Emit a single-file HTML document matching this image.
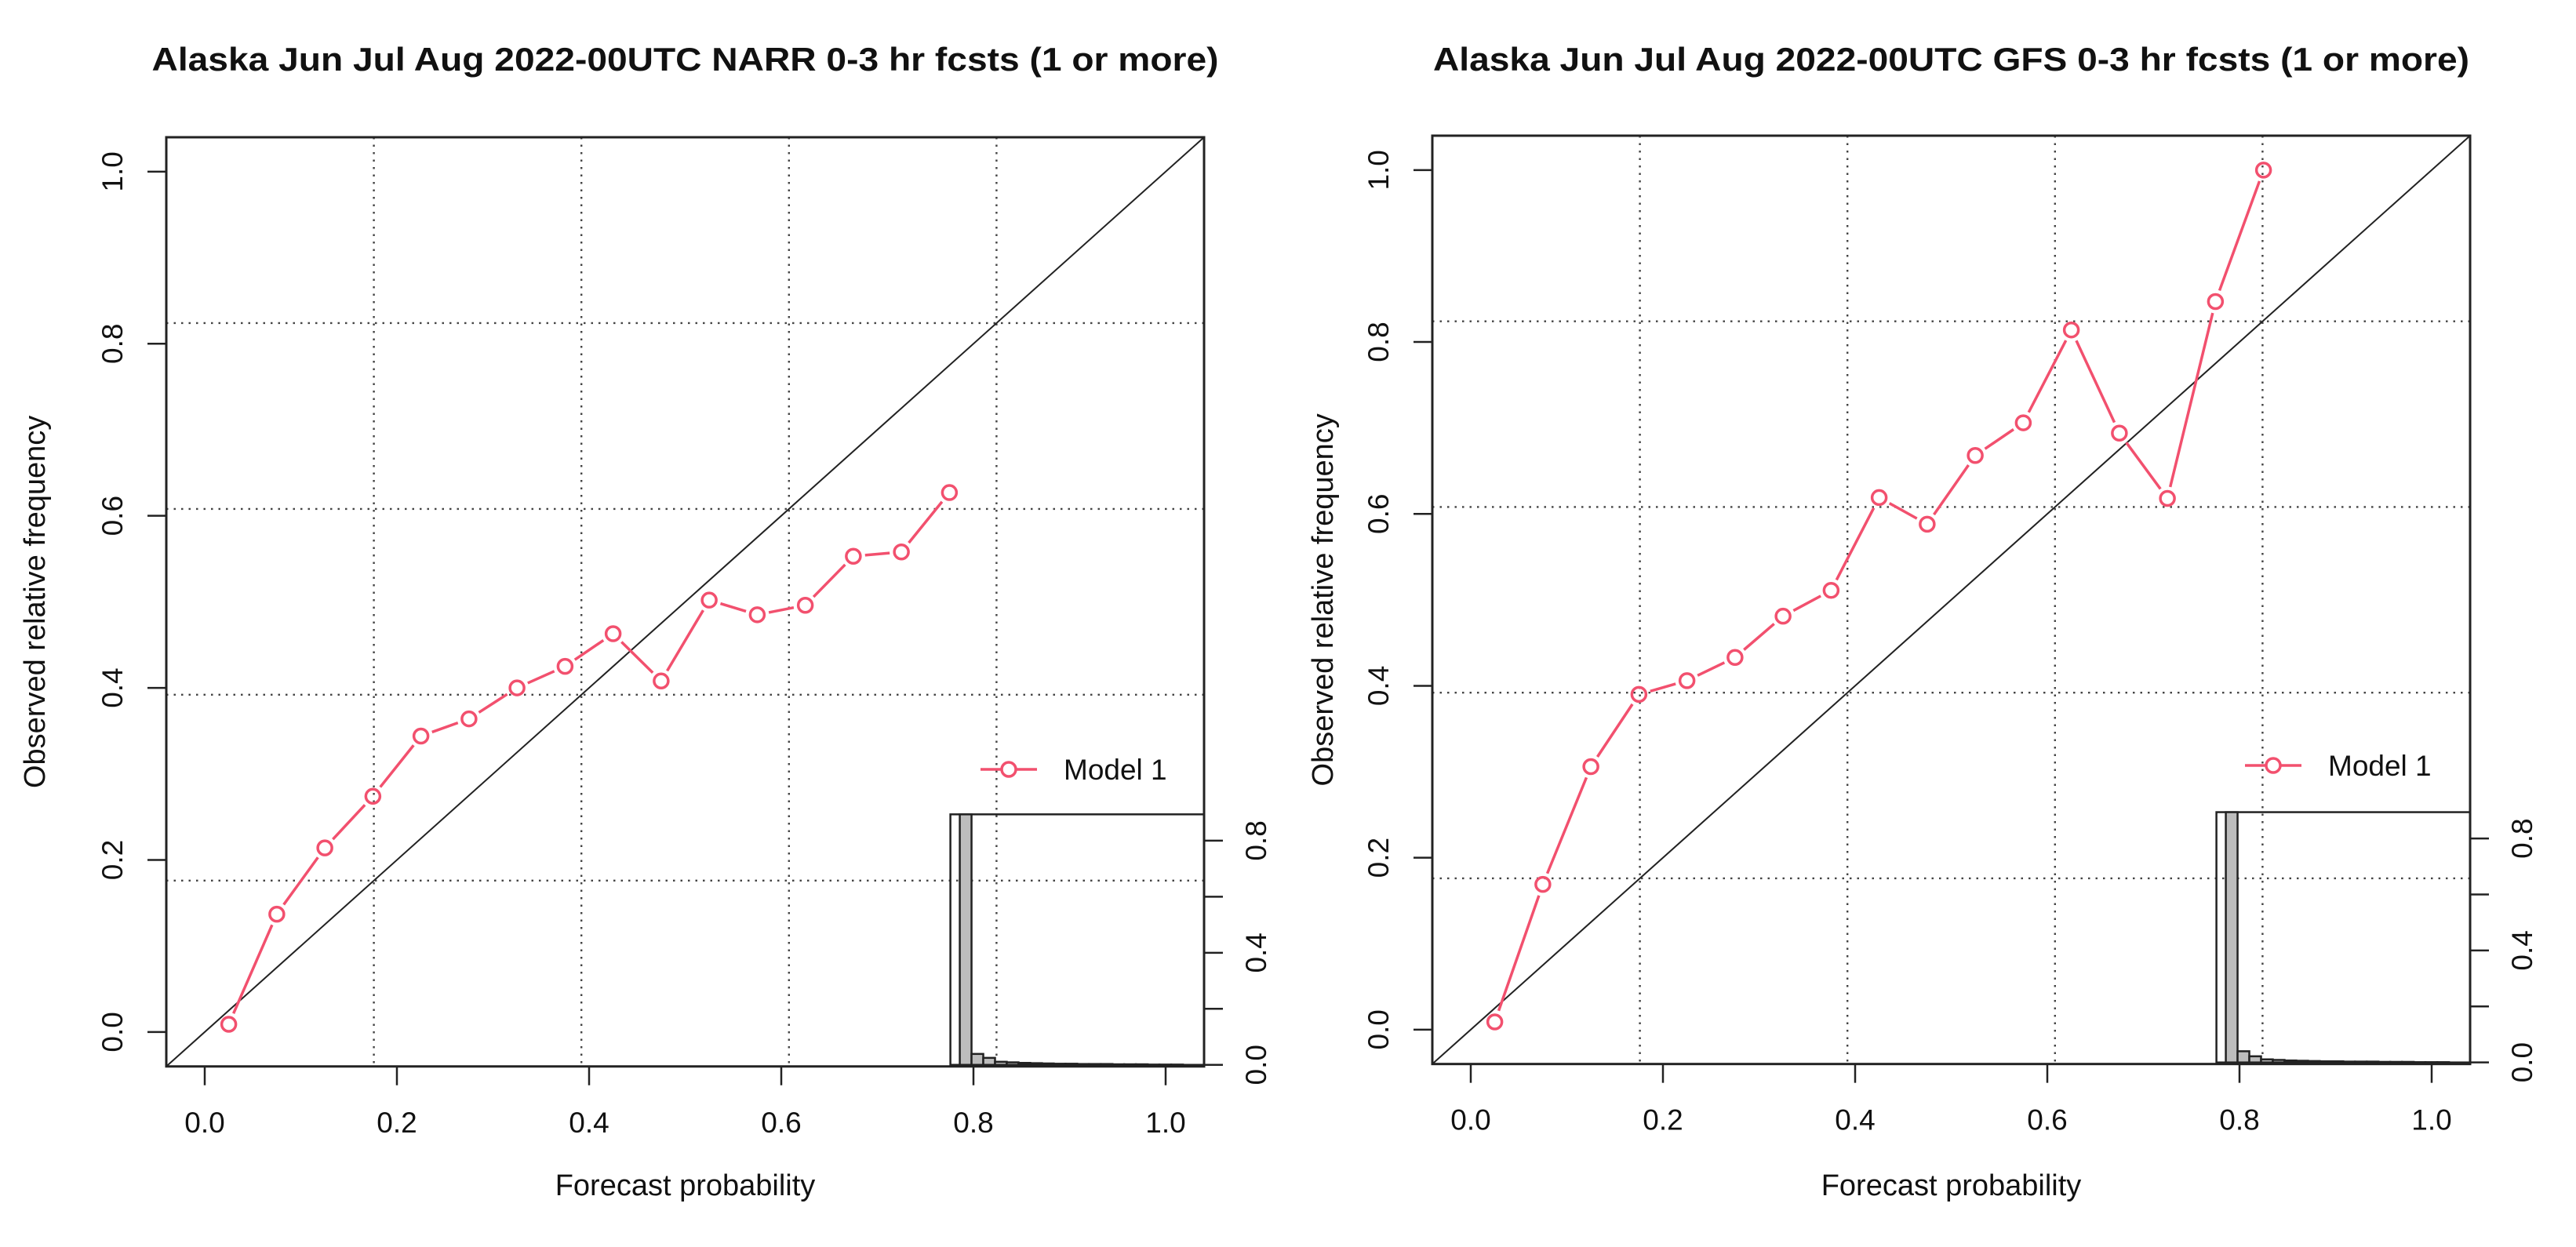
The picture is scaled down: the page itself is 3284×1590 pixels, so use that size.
<!DOCTYPE html>
<html><head><meta charset="utf-8"><style>
html,body{margin:0;padding:0;background:#fff;}
svg{display:block;font-family:"Liberation Sans",Arial,sans-serif;}
</style></head><body>
<svg id="chart" width="3284" height="1590" viewBox="0 0 3284 1590" xmlns="http://www.w3.org/2000/svg"></svg>
<script>
const xTicks = [0, 0.2, 0.4, 0.6, 0.8, 1.0];
const yTicks = [0, 0.2, 0.4, 0.6, 0.8, 1.0];
const tickLabels = ["0.0", "0.2", "0.4", "0.6", "0.8", "1.0"];
const gridVals = [0.176, 0.392, 0.608, 0.824];
const narrX = [0.025,0.075,0.125,0.175,0.225,0.275,0.325,0.375,0.425,0.475,0.525,0.575,0.625,0.675,0.725,0.775];
const narrY = [0.009,0.137,0.214,0.274,0.344,0.364,0.400,0.425,0.463,0.408,0.502,0.485,0.496,0.553,0.558,0.627];
const gfsX = [0.025,0.075,0.125,0.175,0.225,0.275,0.325,0.375,0.425,0.475,0.525,0.575,0.625,0.675,0.725,0.775,0.825];
const gfsY = [0.009,0.169,0.306,0.390,0.406,0.433,0.481,0.511,0.619,0.588,0.668,0.706,0.814,0.694,0.618,0.847,1.0];
const histBins = [0.025,0.075,0.125,0.175,0.225,0.275,0.325,0.375,0.425,0.475,0.525,0.575,0.625,0.675,0.725,0.775,0.825,0.875,0.925,0.975];
const narrHist = [0.894,0.039,0.025,0.011,0.009,0.007,0.006,0.005,0.004,0.004,0.003,0.003,0.003,0.002,0.002,0.002,0.001,0.001,0.001,0.0];
const gfsHist = [0.894,0.040,0.022,0.011,0.009,0.007,0.006,0.005,0.004,0.004,0.003,0.003,0.003,0.002,0.002,0.002,0.001,0.001,0.001,0.0];
const histTicks = [0, 0.2, 0.4, 0.6, 0.8];
const histLabels = ["0.0", "", "0.4", "", "0.8"];
const titles = ["Alaska Jun Jul Aug 2022-00UTC NARR 0-3 hr fcsts (1 or more)", "Alaska Jun Jul Aug 2022-00UTC GFS 0-3 hr fcsts (1 or more)"];

const NS = "http://www.w3.org/2000/svg";
const svg = document.getElementById("chart");
const RED = "#F2506E";
function mk(tag, attrs, parent){
  const e = document.createElementNS(NS, tag);
  for (const k in attrs) e.setAttribute(k, attrs[k]);
  (parent || svg).appendChild(e);
  return e;
}

function panel(p){
  const g = mk("g", {});
  
  
  const L = p.left, T = p.top, R = p.left + 1.08 * p.sx, B = p.top + 1.08 * p.sy;
  const sx = v => L + (v + 0.04) * p.sx;
  const sy = v => B - (v + 0.04) * p.sy;
  // title
  const t = mk("text", {x:(L+R)/2, y:p.titleY, "text-anchor":"middle", "font-size":42, "font-weight":"bold", fill:"#111", textLength:p.titleW, lengthAdjust:"spacingAndGlyphs"}, g);
  t.textContent = p.title;
  
  
  // grid
  gridVals.forEach(v => {
    const gl = mk("line", {x1:sx(v), x2:sx(v), y1:T, y2:B, stroke:"#444", "stroke-width":2.4, "stroke-dasharray":"2.5 7"}, g);
    
    
    const hl = mk("line", {x1:L, x2:R, y1:sy(v), y2:sy(v), stroke:"#444", "stroke-width":2.4, "stroke-dasharray":"2.5 7"}, g);
    
    
  });
  // diagonal
  const d = mk("line", {x1:sx(-0.04), y1:sy(-0.04), x2:sx(1.04), y2:sy(1.04), stroke:"#222", "stroke-width":2}, g);
  
  
  // x ticks
  xTicks.forEach((v,i) => {
    const tk = mk("line", {x1:sx(v), x2:sx(v), y1:B, y2:B+24, stroke:"#222", "stroke-width":2.5}, g);
    
    
    const tl = mk("text", {x:sx(v), y:B+84, "text-anchor":"middle", "font-size":37, fill:"#111"}, g);
    tl.textContent = tickLabels[i];
    
    
  });
  yTicks.forEach((v,i) => {
    const tk = mk("line", {x1:L-24, x2:L, y1:sy(v), y2:sy(v), stroke:"#222", "stroke-width":2.5}, g);
    
    
    const cx = L - 69, cy = sy(v);
    const tl = mk("text", {x:cx, y:cy+13, "text-anchor":"middle", "font-size":37, fill:"#111", transform:`rotate(-90 ${cx} ${cy})`}, g);
    tl.textContent = tickLabels[i];
    
    
  });
  const xt = mk("text", {x:(L+R)/2, y:1524, "text-anchor":"middle", "font-size":38, fill:"#111"}, g);
  xt.textContent = "Forecast probability";
  
  
  const yx = L - p.ylabOff, yy = (T+B)/2;
  const yt = mk("text", {x:yx, y:yy+13, "text-anchor":"middle", "font-size":38, fill:"#111", transform:`rotate(-90 ${yx} ${yy})`}, g);
  yt.textContent = "Observed relative frequency";
  
  

  // inset histogram
  const iL = sx(0.776), iR = R, iT = sy(0.253), iB = B - 2;
  const hsx = v => iL + (v + 0.04) / 1.08 * (iR - iL);
  const hMax = 0.894;
  const hsy = v => iB - v / hMax * (iB - iT);
  const ig = mk("g", {}, g);
  
  
  mk("rect", {x:iL, y:iT, width:iR-iL, height:iB-iT, fill:"#fff", "fill-opacity":0, stroke:"#222", "stroke-width":2.5}, ig);
  histBins.forEach((c,i) => {
    const v = p.hist[i];
    if (v <= 0) return;
    const b = mk("rect", {x:hsx(c-0.025), y:hsy(v), width:hsx(c+0.025)-hsx(c-0.025), height:iB-hsy(v), fill:"#bdbdbd", stroke:"#222", "stroke-width":2.5}, ig);
    
    
  });
  histTicks.forEach((v,i) => {
    const tk = mk("line", {x1:iR, x2:iR+24, y1:hsy(v), y2:hsy(v), stroke:"#222", "stroke-width":2.5}, ig);
    
    
    if (histLabels[i]) {
      const cx = iR + 66, cy = hsy(v);
      const tl = mk("text", {x:cx, y:cy+13, "text-anchor":"middle", "font-size":37, fill:"#111", transform:`rotate(-90 ${cx} ${cy})`}, ig);
      tl.textContent = histLabels[i];
      
      
    }
  });

  // plot box
  const box = mk("rect", {x:L, y:T, width:R-L, height:B-T, fill:"none", stroke:"#222", "stroke-width":3}, g);
  
  

  // series
  const sg = mk("g", {}, g);
  
  
  const gap = 15;
  for (let i = 0; i < p.xs.length - 1; i++) {
    const x1 = sx(p.xs[i]), y1 = sy(p.ys[i]), x2 = sx(p.xs[i+1]), y2 = sy(p.ys[i+1]);
    const len = Math.hypot(x2-x1, y2-y1);
    if (len <= 2*gap) continue;
    const ux = (x2-x1)/len, uy = (y2-y1)/len;
    const s = mk("line", {x1:x1+ux*gap, y1:y1+uy*gap, x2:x2-ux*gap, y2:y2-uy*gap, stroke:RED, "stroke-width":3.5}, sg);
    
    
  }
  p.xs.forEach((x,i) => {
    const c = mk("circle", {cx:sx(x), cy:sy(p.ys[i]), r:9, fill:"none", stroke:RED, "stroke-width":3.5}, sg);
    
    
  });
  // legend
  const lg = mk("g", {}, g);
  
  
  mk("line", {x1:p.legX, x2:p.legX+72, y1:p.legY, y2:p.legY, stroke:RED, "stroke-width":3.5}, lg);
  mk("circle", {cx:p.legX+36, cy:p.legY, r:9, fill:"#fff", stroke:RED, "stroke-width":3.5}, lg);
  const lt = mk("text", {x:p.legX+106, y:p.legY+13, "font-size":37, fill:"#111"}, lg);
  lt.textContent = "Model 1";
}

panel({name:"narr-panel", left:212, top:175, sx:1225, sy:1097, title:titles[0], titleY:90, titleW:1360, ylabOff:168, xs:narrX, ys:narrY, hist:narrHist, legX:1250, legY:981});
panel({name:"gfs-panel", left:1826, top:173, sx:1225, sy:1096, title:titles[1], titleY:90, titleW:1321, ylabOff:140, xs:gfsX, ys:gfsY, hist:gfsHist, legX:2862, legY:976});
</script>
</body></html>
